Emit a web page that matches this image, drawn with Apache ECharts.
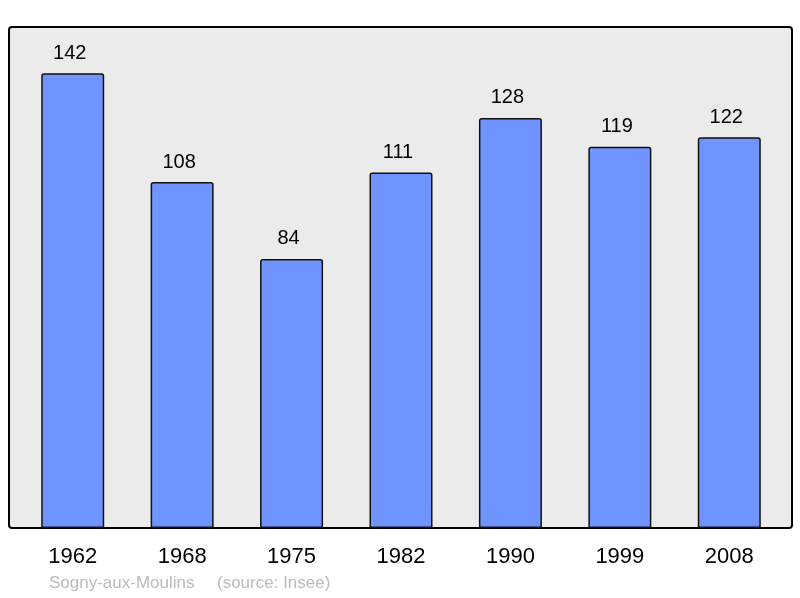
<!DOCTYPE html>
<html>
<head>
<meta charset="utf-8">
<script src="https://cdn.jsdelivr.net/npm/echarts@6/dist/echarts.min.js"></script>
<style>
  html, body { margin: 0; padding: 0; background: #fff; }
  #chart { width: 800px; height: 598px; }
</style>
</head>
<body>
<div id="chart"></div>
<script>
// populations par recensement
const years = ["1962", "1968", "1975", "1982", "1990", "1999", "2008"];
const population = [142, 108, 84, 111, 128, 119, 122];
const townName = "Sogny-aux-Moulins";
const sourceText = "(source: Insee)";

var myChart = echarts.init(document.getElementById('chart'));
var option = {
  animation: false,
  grid: { left: 18, top: 27, width: 766, height: 501 },
  graphic: [
    {
      type: 'rect',
      z: -10,
      shape: { x: 9, y: 27, width: 783, height: 501, r: 3 },
      style: { fill: '#ebebeb', stroke: '#000', lineWidth: 2 }
    },
    {
      type: 'text',
      left: 49,
      top: 575,
      style: { text: townName, fill: '#bbbbbb', font: '17px "Liberation Sans", Arial, sans-serif' }
    },
    {
      type: 'text',
      left: 217,
      top: 575,
      style: { text: sourceText, fill: '#bbbbbb', font: '17px "Liberation Sans", Arial, sans-serif' }
    }
  ],
  xAxis: {
    type: 'category',
    data: years,
    axisLine: { show: false },
    axisTick: { show: false },
    axisLabel: {
      color: '#000',
      fontSize: 22,
      fontFamily: '"Liberation Sans", Arial, sans-serif',
      margin: 18
    }
  },
  yAxis: {
    type: 'value',
    min: 0,
    max: 156.4,
    show: false,
    splitLine: { show: false }
  },
  series: [{
    type: 'bar',
    data: population,
    barWidth: 63,
    itemStyle: {
      color: '#7094ff',
      borderColor: '#111',
      borderWidth: 1.5,
      borderRadius: [2, 2, 0, 0]
    },
    label: {
      show: true,
      position: 'top',
      distance: 10,
      offset: [-3, 0],
      color: '#000',
      fontSize: 20,
      fontFamily: '"Liberation Sans", Arial, sans-serif'
    }
  }]
};
myChart.setOption(option, true);
</script>
</body>
</html>
